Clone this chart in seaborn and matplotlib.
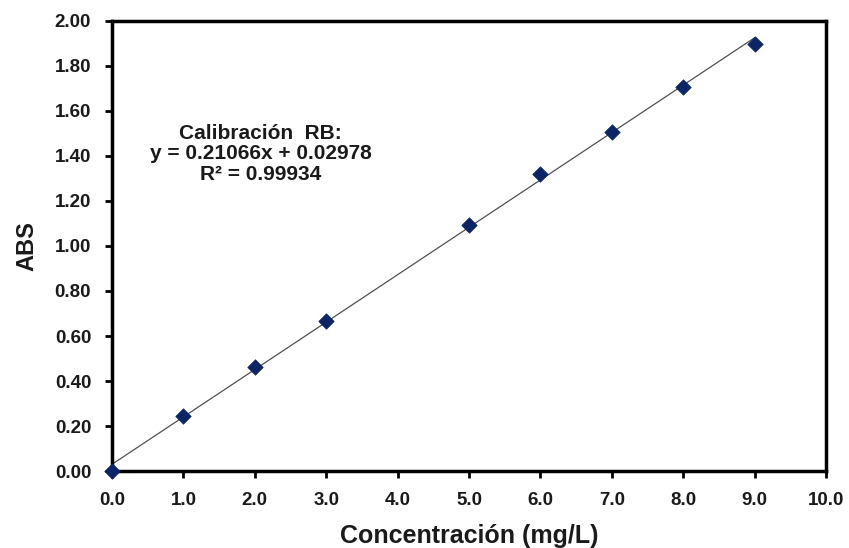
import numpy as np
import pandas as pd
import matplotlib
matplotlib.use("Agg")
import matplotlib.pyplot as plt
import seaborn as sns
from matplotlib.ticker import FormatStrFormatter, MultipleLocator

# Data
conc = [0.0, 1.0, 2.0, 3.0, 5.0, 6.0, 7.0, 8.0, 9.0]
abs_vals = [0.00, 0.245, 0.462, 0.665, 1.095, 1.318, 1.505, 1.708, 1.898]
slope = 0.21066
intercept = 0.02978
r2 = 0.99934

sns.set_theme(style="white")
plt.rcParams['font.family'] = ['Liberation Sans', 'DejaVu Sans']
plt.rcParams['font.weight'] = 'bold'

fig = plt.figure(figsize=(8.49, 5.48), dpi=100)
ax = fig.add_axes([0.1319, 0.1405, 0.973 - 0.1319, 0.9617 - 0.1405])

df = pd.DataFrame({"x": conc, "y": abs_vals})
fit_x = [min(conc), max(conc)]
fit_df = pd.DataFrame({"x": fit_x, "y": [slope * v + intercept for v in fit_x]})

sns.lineplot(data=fit_df, x="x", y="y", ax=ax, color="#505050", linewidth=0.9, zorder=2)
sns.scatterplot(data=df, x="x", y="y", ax=ax, marker="D", s=62, color="#0b2566",
                edgecolor="#0b2566", linewidth=0.5, zorder=3, clip_on=False)

ax.set_xlim(0, 10)
ax.set_ylim(0, 2.0)
ax.xaxis.set_major_locator(MultipleLocator(1.0))
ax.yaxis.set_major_locator(MultipleLocator(0.2))
ax.xaxis.set_major_formatter(FormatStrFormatter("%.1f"))
ax.yaxis.set_major_formatter(FormatStrFormatter("%.2f"))

for s in ax.spines.values():
    s.set_linewidth(2.5)
    s.set_color("black")

ax.tick_params(axis="both", direction="out", length=5, width=2, color="black",
               labelsize=13.5, bottom=True, left=True)
ax.tick_params(axis="x", pad=10)
ax.tick_params(axis="y", pad=10)
for lab in ax.get_xticklabels() + ax.get_yticklabels():
    lab.set_fontweight("bold")
    lab.set_color("#1a1a1a")

ax.set_xlabel("Concentración (mg/L)", fontsize=18, fontweight="bold", labelpad=11, color="#1a1a1a")
ax.set_ylabel("ABS", fontsize=17, fontweight="bold", labelpad=12, color="#1a1a1a")

ax.text(2.08, 1.41, f"Calibración  RB:\ny = {slope:.5f}x + {intercept:.5f}\nR² = {r2:.5f}",
        ha="center", va="center", fontsize=15, fontweight="bold", color="#1a1a1a",
        linespacing=1.1)

fig.savefig("out.png", dpi=100)
